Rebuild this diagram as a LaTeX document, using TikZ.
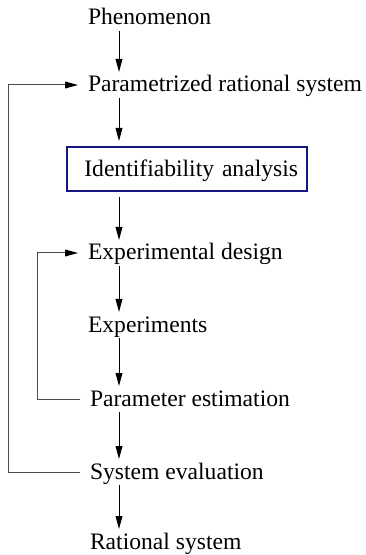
\documentclass[tikz,border=0pt]{standalone}
\usepackage{fontspec}
\setmainfont{Liberation Serif}
\usetikzlibrary{arrows.meta}
\definecolor{navy}{RGB}{20,20,130}
\begin{document}
\begin{tikzpicture}[
        x=0.5bp, y=-0.5bp,
        font=\fontsize{11.8bp}{14bp}\selectfont
    ]
    \tikzset{
        mynode/.style = {anchor=base west, inner xsep=0pt, inner ysep=1.5bp, outer xsep=5bp, outer ysep=0pt, text height=8.5bp, text depth=1.5bp},
        mybox/.style = {anchor=south west, draw=navy, line width=0.7bp, text width=111bp, align=right, inner xsep=4.5bp, inner ysep=0pt, outer sep=3bp, text height=15bp, text depth=7bp},
        edgen/.style = {-{Triangle[length=6.5bp,width=3.4bp]}, line width=0.5bp, black},
        edgeg/.style = {-{Triangle[length=6.5bp,width=3.4bp,color=black]}, line width=0.5bp, black!70},
    }
    \useasboundingbox (0,0) rectangle (365,555);
    \coordinate (col) at (119,0);
    \coordinate (outer) at (8,0);
    \coordinate (inner) at (37,0);
    \node[mynode] at (78,25) (phen) {Phenomenon};
    \node[mynode] at (78,92) (param) {Parametrized rational system};
    \node[mybox] at (61,197) (ident) {Identifiability analysis};
    \node[mynode] at (78,260) (design) {Experimental design};
    \node[mynode] at (78,332) (exper) {Experiments};
    \node[mynode] at (80,406) (estim) {Parameter estimation};
    \node[mynode] at (80,479) (evalu) {System evaluation};
    \node[mynode] at (80,549) (ratsys) {Rational system};
    %
    \draw[edgen] (phen.south -| col) -- (param.north -| col);
    \draw[edgen] (param.south -| col) -- (ident.north -| col);
    \draw[edgen] (ident.south -| col) -- (design.north -| col);
    \draw[edgen] (design.south -| col) -- (exper.north -| col);
    \draw[edgen] (exper.south -| col) -- (estim.north -| col);
    \draw[edgen] (estim.south -| col) -- (evalu.north -| col);
    \draw[edgen] (evalu.south -| col) -- (ratsys.north -| col);
    %
    \draw[edgeg] (estim.west) -- (estim.west -| inner) |- (design.west);
    \draw[edgeg] (evalu.west) -- (evalu.west -| outer) |- (param.west);
\end{tikzpicture}
\end{document}
